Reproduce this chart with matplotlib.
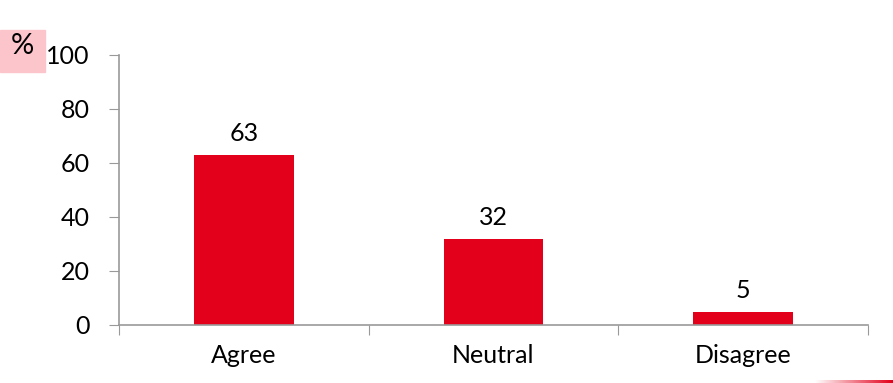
import numpy as np
import matplotlib.pyplot as plt
from matplotlib.patches import Rectangle
from matplotlib.colors import LinearSegmentedColormap

categories = ['Agree', 'Neutral', 'Disagree']
values = [63, 32, 5]
yticks = [0, 20, 40, 60, 80, 100]

plt.rcParams['font.family'] = ['Lato', 'DejaVu Sans']
fs = 18

fig = plt.figure(figsize=(8.93, 3.83), dpi=100)
ax = fig.add_axes([119 / 893, 1 - 325 / 383, 749 / 893, 270 / 383])

x = np.arange(len(categories))
ax.bar(x, values, width=0.4, color='#e2001a', zorder=2)
for xi, v in zip(x, values):
    ax.text(xi, v + 3.5, str(v), ha='center', va='bottom', fontsize=fs)

ax.set_xlim(-0.5, len(categories) - 0.5)
ax.set_ylim(0, 100)
ax.set_yticks(yticks)
ax.set_yticklabels([str(t) for t in yticks], fontsize=fs)

# category labels between boundary ticks
ax.set_xticks(np.arange(len(categories) + 1) - 0.5)
ax.set_xticklabels([])
ax.set_xticks(x, minor=True)
ax.set_xticklabels(categories, minor=True, fontsize=fs)
ax.tick_params(axis='x', which='minor', length=0, pad=14)
ax.tick_params(axis='x', which='major', length=7, color='#999999', direction='out')
ax.tick_params(axis='y', length=7, color='#999999', direction='out', pad=14)

for s in ['top', 'right']:
    ax.spines[s].set_visible(False)
for s in ['left', 'bottom']:
    ax.spines[s].set_color('#999999')
    ax.spines[s].set_linewidth(1.2)

# percent tag
fig.patches.append(Rectangle((0, 1 - 72 / 383), 45 / 893, 42 / 383,
                             transform=fig.transFigure, color='#fcc5cc', zorder=0))
fig.text(22 / 893, 1 - 46 / 383, '%', ha='center', va='center', fontsize=21)

# red accent line at bottom right
grad = np.linspace(0, 1, 100).reshape(1, -1)
acc = fig.add_axes([815 / 893, 0, 78 / 893, 3 / 383])
acc.imshow(grad, aspect='auto', cmap=LinearSegmentedColormap.from_list('r', ['#ffffff', '#e2001a']))
acc.axis('off')

fig.savefig('out.png', dpi=100)
